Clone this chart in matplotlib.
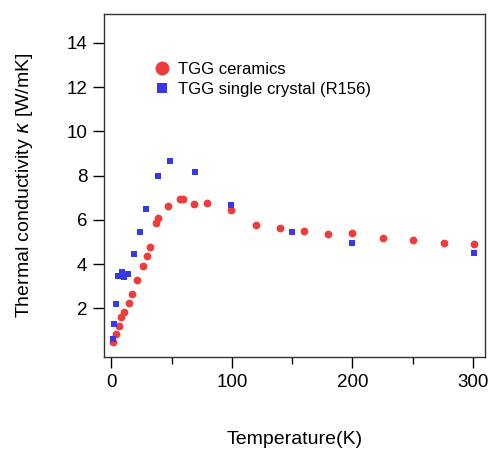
import numpy as np
import matplotlib.pyplot as plt
from matplotlib.lines import Line2D

plt.rcParams['font.family'] = ['Liberation Sans', 'DejaVu Sans']

# TGG ceramics
T_cer = [1.7, 3.9, 6.1, 8.0, 10.8, 14.4, 17.2, 21.3, 26.6, 29.4, 32.1, 37.1, 39.0,
         47.1, 57.0, 59.8, 68.2, 79.2, 99.5, 119.7, 139.7, 159.9, 180.1, 200.0,
         225.0, 250.5, 275.7, 301.0]
k_cer = [0.48, 0.86, 1.22, 1.6, 1.82, 2.22, 2.66, 3.28, 3.92, 4.38, 4.76, 5.85, 6.06,
         6.62, 6.92, 6.92, 6.72, 6.78, 6.45, 5.76, 5.64, 5.51, 5.34, 5.42,
         5.19, 5.08, 4.96, 4.92]

# TGG single crystal (R156)
T_sc = [1.7, 2.5, 3.9, 5.3, 8.9, 10.8, 14.1, 18.6, 23.9, 28.8, 38.8, 48.5, 69.2,
        99.5, 149.6, 200.0, 300.7]
k_sc = [0.61, 1.3, 2.18, 3.46, 3.63, 3.4, 3.56, 4.47, 5.46, 6.48, 7.97, 8.66, 8.18,
        6.68, 5.46, 4.96, 4.48]

red = '#ef3b3b'
blue = '#3838ea'

fig = plt.figure(figsize=(4.91, 4.51), dpi=100)
ax = fig.add_axes([0.212, 0.2084, 0.776, 0.7606])

ax.plot(T_cer, k_cer, 'o', color=red, markersize=5.6, markeredgewidth=0)
ax.plot(T_sc, k_sc, 's', color=blue, markersize=5.0, markeredgewidth=0)

ax.set_xlim(-6, 310)
ax.set_ylim(-0.2, 15.3)
ax.set_xticks([0, 100, 200, 300])
ax.set_xticks([50, 150, 250], minor=True)
ax.set_yticks([2, 4, 6, 8, 10, 12, 14])
ax.tick_params(direction='out', length=8, width=1, labelsize=13.5, pad=4)
ax.tick_params(which='minor', direction='out', length=5, width=1)
for s in ax.spines.values():
    s.set_linewidth(1)
    s.set_color('#333333')

ax.set_xlabel('Temperature(K)', fontsize=14, labelpad=29)
ax.set_ylabel('Thermal conductivity $\\kappa$ [W/mK]', fontsize=14, labelpad=23)

handles = [Line2D([], [], ls='', marker='o', color=red, markersize=10, markeredgewidth=0),
           Line2D([], [], ls='', marker='s', color=blue, markersize=7, markeredgewidth=0)]
ax.legend(handles, ['TGG ceramics', 'TGG single crystal (R156)'],
          loc='upper left', bbox_to_anchor=(0.09, 0.905), frameon=False,
          fontsize=12, handlelength=1.0, handletextpad=0.5, labelspacing=0.3)

fig.savefig('out.png', dpi=100)
